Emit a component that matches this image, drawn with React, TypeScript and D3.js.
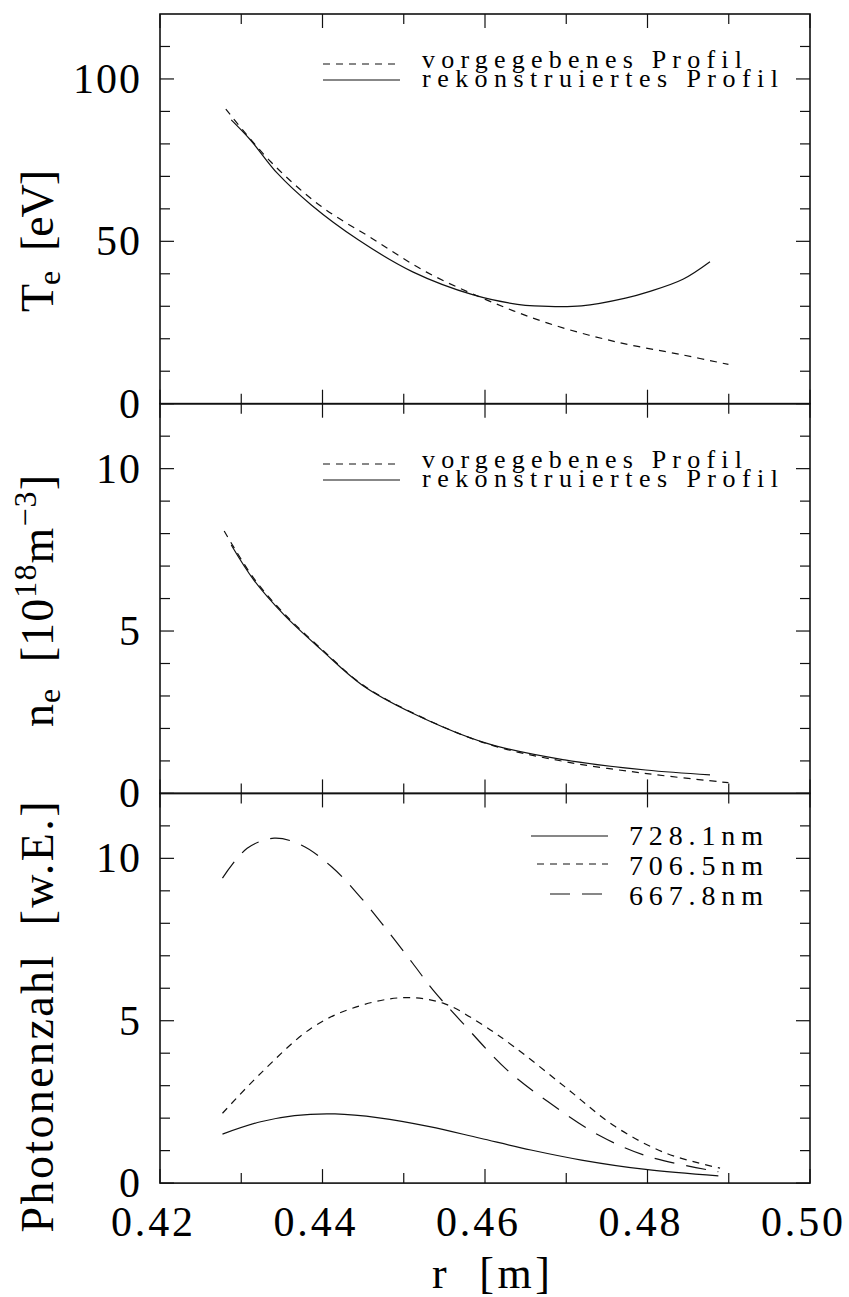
import React from 'react';
import * as d3 from 'd3';

// ---------- data ----------
const X_TICKS = [0.42, 0.43, 0.44, 0.45, 0.46, 0.47, 0.48, 0.49, 0.50];
const X_LABELS = ['0.42', '0.44', '0.46', '0.48', '0.50'];

// Panel 1: T_e [eV]
const TE_R_VORG = [0.4281, 0.43363, 0.43987, 0.4461, 0.45275, 0.46025, 0.46773, 0.47604, 0.48436, 0.48996];
const TE_V_VORG = [90.7, 74.5, 60.7, 50.9, 40.6, 31.9, 24.8, 19.1, 15.0, 12.1];
const TE_R_REK = [0.42877, 0.43114, 0.43446, 0.43862, 0.44444, 0.4511, 0.45857, 0.46398, 0.46606, 0.47188, 0.47729, 0.4802, 0.48436, 0.48769];
const TE_V_REK = [87.4, 81.2, 70.9, 61.2, 50.4, 40.6, 33.5, 30.6, 30.1, 30.1, 32.5, 34.5, 38.3, 43.7];
const TE_TICKS_MAJOR = [0, 50, 100];
const TE_TICKS_MINOR = [10, 20, 30, 40, 60, 70, 80, 90, 110];

// Panel 2: n_e [10^18 m^-3]
const NE_R_VORG = [0.4279, 0.43155, 0.4353, 0.43987, 0.44486, 0.4511, 0.46025, 0.46981, 0.4802, 0.48996];
const NE_V_VORG = [8.08, 6.62, 5.53, 4.45, 3.36, 2.48, 1.53, 0.98, 0.6, 0.33];
const NE_R_REK = [0.42877, 0.43155, 0.4353, 0.43987, 0.44486, 0.4511, 0.46025, 0.46981, 0.47978, 0.48769];
const NE_V_REK = [7.65, 6.57, 5.49, 4.42, 3.34, 2.47, 1.54, 1.03, 0.72, 0.57];
const SMALL_TICKS_MAJOR = [0, 5, 10];
const SMALL_TICKS_MINOR = [1, 2, 3, 4, 6, 7, 8, 9, 11];

// Panel 3: Photonenzahl [w.E.]
const PH_R_728 = [0.42769, 0.43239, 0.43655, 0.44154, 0.44695, 0.45318, 0.45941, 0.46565, 0.47188, 0.47978, 0.48872];
const PH_V_728 = [1.51, 1.89, 2.08, 2.13, 2.01, 1.74, 1.38, 1.02, 0.71, 0.42, 0.22];
const PH_R_706 = [0.42769, 0.43239, 0.43862, 0.44361, 0.44985, 0.45484, 0.45941, 0.46357, 0.46981, 0.47604, 0.48228, 0.48893];
const PH_V_706 = [2.15, 3.38, 4.77, 5.38, 5.71, 5.54, 4.92, 4.2, 2.97, 1.74, 0.92, 0.46];
const PH_R_667 = [0.42769, 0.43073, 0.43405, 0.43738, 0.44112, 0.44444, 0.44777, 0.4511, 0.45359, 0.45692, 0.46274, 0.46773, 0.47397, 0.4802, 0.48872];
const PH_V_667 = [9.39, 10.31, 10.62, 10.41, 9.74, 8.87, 7.85, 6.77, 5.95, 5.02, 3.48, 2.51, 1.48, 0.81, 0.35];

const PROFILE_LEGEND = ['vorgegebenes  Profil', 'rekonstruiertes  Profil'];
const LINE_LEGEND = ['728.1nm', '706.5nm', '667.8nm'];

// ---------- styles ----------
const SHORT_DASH = '7 6';
const LONG_DASH = '20 12';
const SERIF = '"Liberation Serif", Tinos, "Times New Roman", monospace';
const CSS = `svg text, svg tspan { font-family: "Liberation Serif", Tinos, "Times New Roman", monospace !important; }`;

const zip = (a: number[], b: number[]) => a.map((v, i) => [v, b[i]] as [number, number]);

export default function App() {
  const W = 849, H = 1297;
  const L = 160, R = 810;
  const TOP = 14, PH = 389.7;
  const x = d3.scaleLinear().domain([0.42, 0.5]).range([L, R]);

  const panels = [
    {
      y: d3.scaleLinear().domain([0, 120]).range([TOP + PH, TOP]),
      major: TE_TICKS_MAJOR, minor: TE_TICKS_MINOR,
      series: [
        { data: zip(TE_R_VORG, TE_V_VORG), dash: SHORT_DASH },
        { data: zip(TE_R_REK, TE_V_REK), dash: undefined },
      ],
    },
    {
      y: d3.scaleLinear().domain([0, 12]).range([TOP + 2 * PH, TOP + PH]),
      major: SMALL_TICKS_MAJOR, minor: SMALL_TICKS_MINOR,
      series: [
        { data: zip(NE_R_VORG, NE_V_VORG), dash: SHORT_DASH },
        { data: zip(NE_R_REK, NE_V_REK), dash: undefined },
      ],
    },
    {
      y: d3.scaleLinear().domain([0, 12]).range([TOP + 3 * PH, TOP + 2 * PH]),
      major: SMALL_TICKS_MAJOR, minor: SMALL_TICKS_MINOR,
      series: [
        { data: zip(PH_R_728, PH_V_728), dash: undefined },
        { data: zip(PH_R_706, PH_V_706), dash: SHORT_DASH },
        { data: zip(PH_R_667, PH_V_667), dash: LONG_DASH },
      ],
    },
  ];

  const stroke = '#111';
  const TS = { fontFamily: SERIF };

  return (
    <div style={{ fontFamily: SERIF }}>
      <style>{CSS}</style>
      <svg width={W} height={H} style={{ position: 'absolute', left: 0, top: 0, fontFamily: SERIF }}>
        <rect x={0} y={0} width={W} height={H} fill="#fff" />
        {panels.map((p, pi) => {
          const y0 = p.y.range()[0];
          const y1 = p.y.range()[1];
          const line = d3.line<[number, number]>()
            .x(d => x(d[0]))
            .y(d => p.y(d[1]))
            .curve(d3.curveCatmullRom.alpha(0.5));
          return (
            <g key={pi}>
              <rect x={L} y={y1} width={R - L} height={y0 - y1} fill="none" stroke={stroke} strokeWidth={1.6} />
              {p.major.map(v => (
                <g key={'M' + v}>
                  <line x1={L} x2={L + 14} y1={p.y(v)} y2={p.y(v)} stroke={stroke} strokeWidth={1.2} />
                  <line x1={R} x2={R - 14} y1={p.y(v)} y2={p.y(v)} stroke={stroke} strokeWidth={1.2} />
                  <text x={142} y={p.y(v) + 14} textAnchor="end" fontSize={42} letterSpacing={2} style={TS}>{String(v)}</text>
                </g>
              ))}
              {p.minor.map(v => (
                <g key={'m' + v}>
                  <line x1={L} x2={L + 10} y1={p.y(v)} y2={p.y(v)} stroke={stroke} strokeWidth={1.2} />
                  <line x1={R} x2={R - 10} y1={p.y(v)} y2={p.y(v)} stroke={stroke} strokeWidth={1.2} />
                </g>
              ))}
              {X_TICKS.map((t, i) => {
                const len = i % 2 === 0 ? 14 : 10;
                return (
                  <g key={'x' + i}>
                    <line x1={x(t)} x2={x(t)} y1={y1} y2={y1 + len} stroke={stroke} strokeWidth={1.2} />
                    <line x1={x(t)} x2={x(t)} y1={y0} y2={y0 - len} stroke={stroke} strokeWidth={1.2} />
                  </g>
                );
              })}
              {p.series.map((s, si) => (
                <path key={si} d={line(s.data) || ''} fill="none" stroke={stroke} strokeWidth={1.2}
                  strokeDasharray={s.dash} />
              ))}
            </g>
          );
        })}

        {X_LABELS.map(l => (
          <text key={l} x={x(+l) - 8} y={1236} textAnchor="middle" fontSize={42} textLength={82} lengthAdjust="spacing" style={TS}>{l}</text>
        ))}
        <text x={491} y={1288} textAnchor="middle" fontSize={44} textLength={118} lengthAdjust="spacing" style={TS}>{'r\u00a0\u00a0[m]'}</text>

        <text transform="translate(53,241) rotate(-90)" textAnchor="middle" fontSize={46} textLength={142} lengthAdjust="spacing" style={TS}>
          T<tspan fontSize={32} dy={7}>e</tspan><tspan dy={-7}>{'\u00a0\u00a0[eV]'}</tspan>
        </text>
        <text transform="translate(53,601) rotate(-90)" textAnchor="middle" fontSize={46} textLength={252} lengthAdjust="spacing" style={TS}>
          n<tspan fontSize={32} dy={7}>e</tspan><tspan dy={-7}>{'\u00a0\u00a0[10'}</tspan><tspan fontSize={32} dy={-17}>18</tspan><tspan dy={17}>m</tspan><tspan fontSize={32} dy={-17}>{'\u2212'}3</tspan><tspan dy={17}>]</tspan>
        </text>
        <text transform="translate(53,1017) rotate(-90)" textAnchor="middle" fontSize={46} textLength={431} lengthAdjust="spacing" style={TS}>
          {'Photonenzahl\u00a0\u00a0[w.E.]'}
        </text>

        {[0, 400].map((off, k) => (
          <g key={'lg' + k}>
            <line x1={323} x2={400} y1={64 + off} y2={64 + off} stroke={stroke} strokeWidth={1.2} strokeDasharray={SHORT_DASH} />
            <line x1={323} x2={400} y1={80 + off} y2={80 + off} stroke={stroke} strokeWidth={1.2} />
            <text x={422} y={68 + off} fontSize={26} textLength={320} lengthAdjust="spacing" style={TS}>{PROFILE_LEGEND[0]}</text>
            <text x={422} y={87 + off} fontSize={26} textLength={356} lengthAdjust="spacing" style={TS}>{PROFILE_LEGEND[1]}</text>
          </g>
        ))}

        <line x1={531} x2={608} y1={836} y2={836} stroke={stroke} strokeWidth={1.2} />
        <line x1={537} x2={608} y1={864} y2={864} stroke={stroke} strokeWidth={1.2} strokeDasharray={SHORT_DASH} />
        <line x1={550} x2={608} y1={894} y2={894} stroke={stroke} strokeWidth={1.2} strokeDasharray={LONG_DASH} />
        {LINE_LEGEND.map((l, i) => (
          <text key={l} x={629} y={845 + i * 30} fontSize={28} textLength={134} lengthAdjust="spacing" style={TS}>{l}</text>
        ))}
      </svg>
    </div>
  );
}
